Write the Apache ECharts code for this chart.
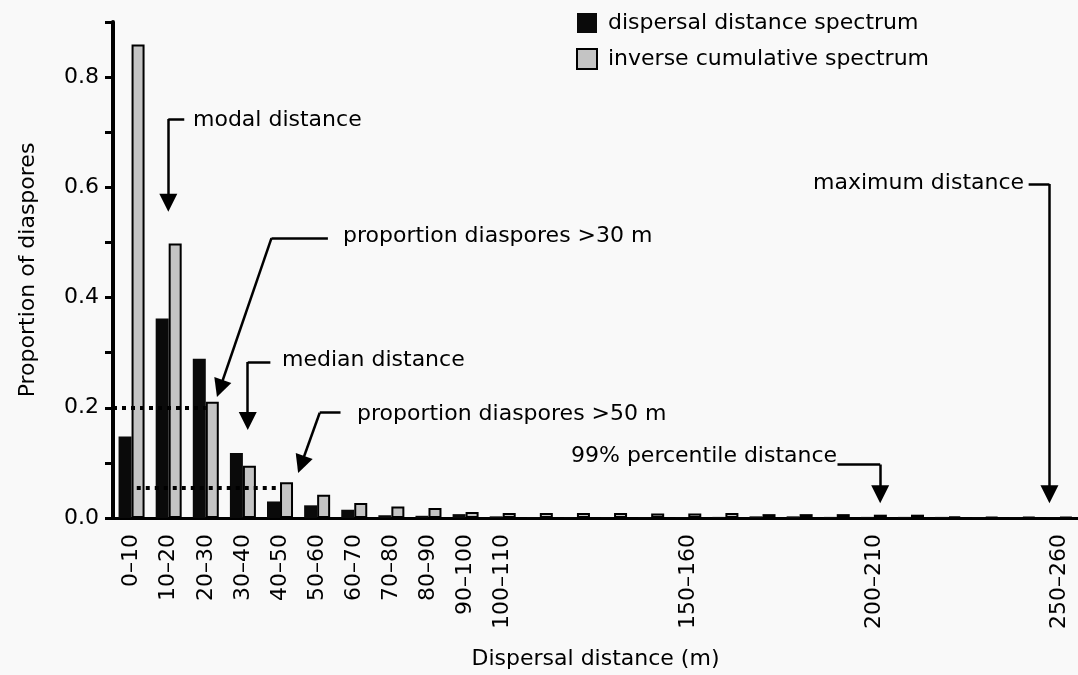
<!DOCTYPE html>
<html>
<head>
<meta charset="utf-8">
<title>Dispersal distance spectrum</title>
<script src="https://cdn.jsdelivr.net/npm/echarts@6/dist/echarts.min.js"></script>
<style>
  html, body { margin: 0; padding: 0; background: #f9f9f9; }
  #chart { width: 1078px; height: 675px; }
</style>
</head>
<body>
<div id="chart"></div>
<script>
// distance classes (m)
const categories = ['0–10', '10–20', '20–30', '30–40', '40–50', '50–60', '60–70', '70–80', '80–90',
  '90–100', '100–110', '110–120', '120–130', '130–140', '140–150', '150–160', '160–170', '170–180',
  '180–190', '190–200', '200–210', '210–220', '220–230', '230–240', '240–250', '250–260'];
// only these classes get a tick label
const labelledClasses = ['0–10', '10–20', '20–30', '30–40', '40–50', '50–60', '60–70', '70–80',
  '80–90', '90–100', '100–110', '150–160', '200–210', '250–260'];

const spectrum = [0.148, 0.362, 0.289, 0.118, 0.030, 0.023, 0.015, 0.005, 0.004, 0.007, 0.003, 0.001, 0.001,
  0.001, 0.001, 0.001, 0.002, 0.003, 0.003, 0.002, 0.002, 0.002, 0.002, 0.001, 0.001, 0.001];
const inverseCumulative = [0.859, 0.498, 0.211, 0.095, 0.065, 0.042, 0.027, 0.021, 0.018, 0.011, 0.009, 0.009,
  0.009, 0.009, 0.008, 0.008, 0.009, 0.007, 0.007, 0.007, 0.006, 0.006, 0.003, 0.002, 0.002, 0.002];

// annotations: x in class units (0 = left end of axis), y in proportion
const dottedLines = [
  [[0, 0.2], [2.5, 0.2]],
  [[0.64, 0.0545], [4.43, 0.0545]]
];
const arrows = [
  { text: 'modal distance', at: [193, 120], path: [[1.92, 0.724], [1.49, 0.724], [1.49, 0.572]] },
  { text: 'proportion diaspores >30 m', at: [343, 236], path: [[5.79, 0.508], [4.27, 0.508], [2.88, 0.235]] },
  { text: 'median distance', at: [282, 360], path: [[4.24, 0.283], [3.63, 0.283], [3.63, 0.176]] },
  { text: 'proportion diaspores >50 m', at: [357, 414], path: [[6.13, 0.191], [5.57, 0.191], [5.07, 0.097]] },
  { text: '99% percentile distance', at: [571, 456], path: [[19.52, 0.097], [20.67, 0.097], [20.67, 0.043]] },
  { text: 'maximum distance', at: [813, 183], path: [[24.67, 0.606], [25.23, 0.606], [25.23, 0.043]] }
];

const font = 'DejaVu Sans';

const plainSegs = [];
const arrowSegs = [];
arrows.forEach(a => {
  for (let i = 0; i < a.path.length - 1; i++) {
    const seg = { coords: [a.path[i], a.path[i + 1]] };
    if (i === a.path.length - 2) arrowSegs.push(seg); else plainSegs.push(seg);
  }
});

const option = {
  backgroundColor: '#f9f9f9',
  animation: false,
  textStyle: { fontFamily: font, color: '#000' },
  grid: { left: 113, right: -10, top: 22, bottom: 157 },
  legend: {
    orient: 'vertical',
    left: 571,
    top: 7,
    icon: 'rect',
    itemWidth: 20,
    itemHeight: 20,
    itemGap: 14,
    textStyle: { fontSize: 22, fontFamily: font, color: '#000', padding: [0, 0, 0, 6] },
    data: ['dispersal distance spectrum', 'inverse cumulative spectrum']
  },
  xAxis: [
    {
      type: 'category',
      data: categories,
      name: 'Dispersal distance (m)',
      nameLocation: 'middle',
      nameGap: 130,
      nameTextStyle: { fontSize: 22, fontFamily: font, color: '#000' },
      axisLine: { lineStyle: { color: '#000', width: 3 } },
      axisTick: { interval: 0, length: 8, lineStyle: { color: '#000', width: 3 } },
      axisLabel: {
        rotate: 90,
        margin: 16,
        fontSize: 22,
        fontFamily: font,
        color: '#000',
        interval: (idx, val) => labelledClasses.includes(val)
      }
    },
    { type: 'value', min: 0, max: categories.length, show: false }
  ],
  yAxis: {
    type: 'value',
    min: 0,
    max: 0.9,
    interval: 0.1,
    name: 'Proportion of diaspores',
    nameLocation: 'middle',
    nameGap: 74,
    nameTextStyle: { fontSize: 22, fontFamily: font, color: '#000' },
    splitLine: { show: false },
    axisLine: { show: true, lineStyle: { color: '#000', width: 4 } },
    axisTick: { show: true, length: 8, lineStyle: { color: '#000', width: 3 } },
    axisLabel: {
      fontSize: 22,
      fontFamily: font,
      color: '#000',
      margin: 14,
      formatter: v => (Math.round(v * 10) % 2 === 0 && v < 0.85) ? v.toFixed(1) : ''
    }
  },
  series: [
    {
      name: 'dispersal distance spectrum',
      type: 'bar',
      data: spectrum,
      barWidth: 13,
      barGap: '0%',
      itemStyle: { color: '#0a0a0a' }
    },
    {
      name: 'inverse cumulative spectrum',
      type: 'bar',
      data: inverseCumulative,
      barWidth: 13,
      itemStyle: { color: '#c4c4c4', borderColor: '#000', borderWidth: 2 }
    },
    {
      type: 'lines',
      coordinateSystem: 'cartesian2d',
      xAxisIndex: 1,
      yAxisIndex: 0,
      z: 5,
      lineStyle: { color: '#000', width: 4, type: [4, 5], opacity: 1 },
      data: dottedLines.map(c => ({ coords: c }))
    },
    {
      type: 'lines',
      coordinateSystem: 'cartesian2d',
      xAxisIndex: 1,
      yAxisIndex: 0,
      z: 5,
      lineStyle: { color: '#000', width: 2.5, opacity: 1 },
      data: plainSegs
    },
    {
      type: 'lines',
      coordinateSystem: 'cartesian2d',
      xAxisIndex: 1,
      yAxisIndex: 0,
      z: 5,
      symbol: ['none', 'triangle'],
      symbolSize: [14, 18],
      lineStyle: { color: '#000', width: 2.5, opacity: 1 },
      data: arrowSegs
    }
  ],
  graphic: arrows.map(a => ({
    type: 'text',
    x: a.at[0],
    y: a.at[1],
    style: { text: a.text, fontSize: 22, fontFamily: font, fill: '#000', verticalAlign: 'middle' }
  }))
};

const chart = echarts.init(document.getElementById('chart'));
chart.setOption(option);
</script>
</body>
</html>
